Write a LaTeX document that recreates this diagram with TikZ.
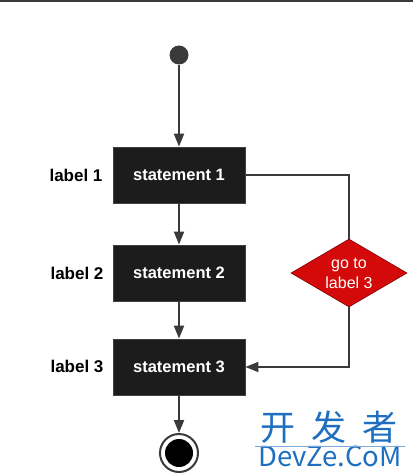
\documentclass[tikz,border=0pt]{standalone}
\usepackage{fontspec}
\setmainfont{Liberation Sans}
\newfontfamily\cjkfont{Noto Sans CJK SC}
\usetikzlibrary{arrows.meta, positioning, shapes.geometric}

\definecolor{boxgray}{HTML}{1C1C1C}
\definecolor{linegray}{HTML}{3A3A3A}
\definecolor{gored}{HTML}{D40A0A}
\definecolor{markblue}{HTML}{1E6FC0}

\begin{document}
\begin{tikzpicture}[
    x=1pt, y=-1pt,
    stmt/.style={rectangle, draw=gray!50!black, line width=0.8pt, fill=boxgray, text=white, minimum width=132pt, minimum height=56pt, font=\bfseries\fontsize{16.5}{19}\selectfont},
    lbl/.style={font=\bfseries\fontsize{17}{20}\selectfont},
    cond/.style={diamond, draw=red!50!black, line width=0.6pt, fill=gored, text=white, aspect=1.73, minimum width=116pt, minimum height=68pt, inner sep=0pt, align=center, font=\fontsize{16}{20}\selectfont},
    flow/.style={-{Triangle[length=13pt, width=10pt]}, draw=linegray, line width=2pt},
    jump/.style={draw=linegray, line width=1.6pt},
    endpt/.style={circle, draw=linegray, line width=2pt, minimum size=38pt, inner sep=0pt,
        path picture={\fill[black] (path picture bounding box.center) circle[radius=14pt];}},
]
\useasboundingbox (0,0) rectangle (413,476);
\fill[white] (0,0) rectangle (413,476);
\fill[linegray] (0,0) rectangle (413,2);

% Nodes
\node[circle, fill=linegray, minimum size=19pt, inner sep=0pt] (start) at (179,55) {};
\node[stmt] (s1) at (179,175) {statement 1};
\node[stmt] (s2) at (179,273) {statement 2};
\node[stmt] (s3) at (179,367) {statement 3};
\node[endpt] (stop) at (179,453) {};

% Labels
\node[lbl] (l1) at (76,175) {label 1};
\node[lbl] (l2) at (77,273) {label 2};
\node[lbl] (l3) at (77,366) {label 3};

% Jump
\node[cond] (goto) at (349,273) {go to\\label 3};

% Arrows
\draw[flow] (start) -- (s1);
\draw[flow] (s1) -- (s2);
\draw[flow] (s2) -- (s3);
\draw[flow] (s3) -- (stop);
\draw[jump] (s1.east) -| (goto.north);
\draw[flow, line width=1.6pt] (goto.south) |- (s3.east);

% Watermark
\node[text=markblue, font=\cjkfont\fontsize{35}{35}\selectfont] (wmcn) at (329,427) {开\hspace{16pt}发\hspace{16pt}者};
\node[text=markblue, font=\cjkfont\fontsize{27.5}{28}\selectfont] (wmen) at (330,456) {DevZe.CoM};
\draw[markblue!60, line width=0.6pt] (wmcn.south west -| wmen.west) -- (wmcn.south east -| wmen.east);

\end{tikzpicture}
\end{document}
